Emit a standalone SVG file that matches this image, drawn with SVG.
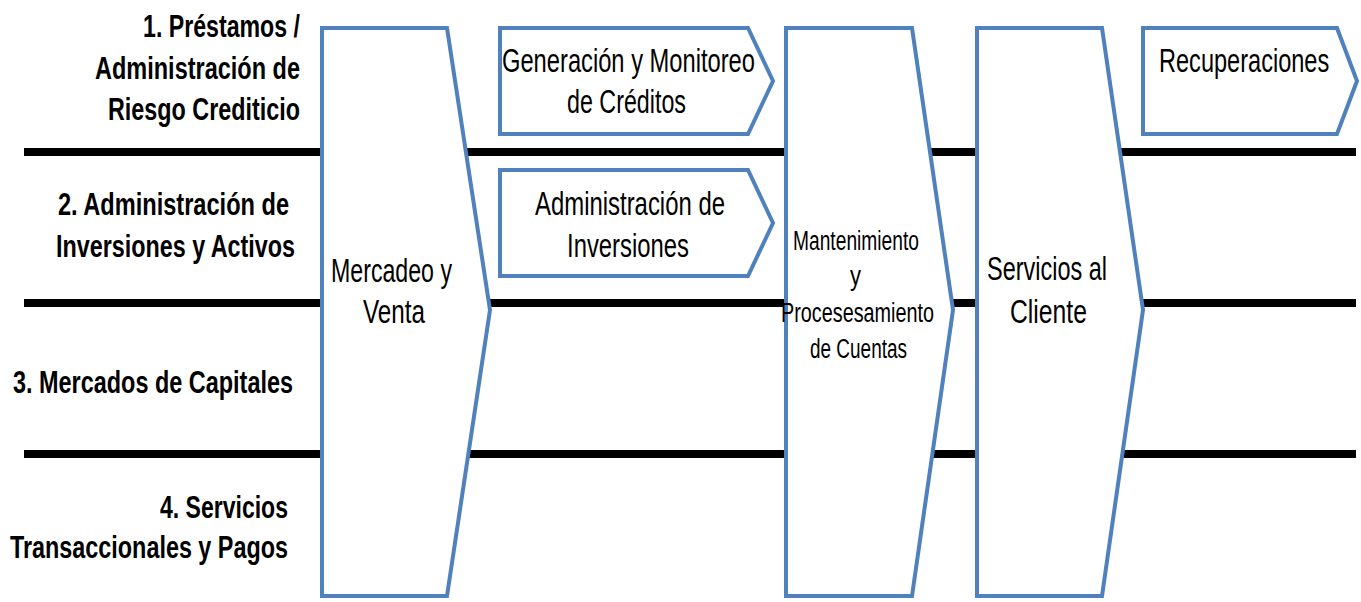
<svg xmlns="http://www.w3.org/2000/svg" width="1361" height="602" viewBox="0 0 1361 602">
<defs>
<filter id="sh" x="-5%" y="-200%" width="110%" height="500%">
<feGaussianBlur stdDeviation="2.5"/>
</filter>
<style>
.lbl{font-family:"Liberation Sans Narrow","Liberation Sans",Arial,sans-serif;font-weight:bold;font-size:31px;fill:#000}
.in{font-family:"Liberation Sans Narrow","Liberation Sans",Arial,sans-serif;font-size:33px;fill:#000}
.sm{font-family:"Liberation Sans Narrow","Liberation Sans",Arial,sans-serif;font-size:27px;fill:#000}
.shape{fill:#fff;stroke:#4F81BD;stroke-width:4;stroke-linejoin:miter}
.sep{stroke:#000;stroke-width:8}
.sepsh{stroke:#888;stroke-width:7;filter:url(#sh)}
</style>
</defs>
<rect width="1361" height="602" fill="#fff"/>
<g id="separators">
<line class="sepsh" x1="26" y1="159" x2="1356" y2="159"/>
<line class="sepsh" x1="26" y1="310" x2="1356" y2="310"/>
<line class="sepsh" x1="26" y1="461" x2="1356" y2="461"/>
<line class="sep" x1="24" y1="152" x2="1356" y2="152"/>
<line class="sep" x1="24" y1="303" x2="1356" y2="303"/>
<line class="sep" x1="24" y1="454" x2="1356" y2="454"/>
</g>
<g id="lane-labels">
<text class="lbl" x="143" y="37" textLength="157" lengthAdjust="spacingAndGlyphs">1. Préstamos /</text>
<text class="lbl" x="95" y="79" textLength="205" lengthAdjust="spacingAndGlyphs">Administración de</text>
<text class="lbl" x="108" y="120" textLength="192" lengthAdjust="spacingAndGlyphs">Riesgo Crediticio</text>
<text class="lbl" x="58" y="215" textLength="231" lengthAdjust="spacingAndGlyphs">2. Administración  de</text>
<text class="lbl" x="56" y="257" textLength="239" lengthAdjust="spacingAndGlyphs">Inversiones y Activos</text>
<text class="lbl" x="13" y="393" textLength="280" lengthAdjust="spacingAndGlyphs">3. Mercados de Capitales</text>
<text class="lbl" x="160" y="518" textLength="128" lengthAdjust="spacingAndGlyphs">4. Servicios</text>
<text class="lbl" x="10" y="558" textLength="278" lengthAdjust="spacingAndGlyphs">Transaccionales y Pagos</text>
</g>
<g id="mercadeo">
<polygon class="shape" points="322,28 447,28 490,310 447,596 322,596"/>
<text class="in" x="331" y="282" textLength="121" lengthAdjust="spacingAndGlyphs">Mercadeo y</text>
<text class="in" x="363" y="323" textLength="62" lengthAdjust="spacingAndGlyphs">Venta</text>
</g>
<g id="generacion">
<polygon class="shape" points="500,28 748,28 773,81 748,134 500,134"/>
<text class="in" x="502" y="72" textLength="253" lengthAdjust="spacingAndGlyphs">Generación y Monitoreo</text>
<text class="in" x="567" y="113" textLength="119" lengthAdjust="spacingAndGlyphs">de Créditos</text>
</g>
<g id="inversiones">
<polygon class="shape" points="500,170 748,170 773,223 748,276 500,276"/>
<text class="in" x="535" y="215" textLength="190" lengthAdjust="spacingAndGlyphs">Administración de</text>
<text class="in" x="567" y="257" textLength="122" lengthAdjust="spacingAndGlyphs">Inversiones</text>
</g>
<g id="mantenimiento">
<polygon class="shape" points="786,28 912,28 953,310 912,596 786,596"/>
<text class="sm" x="793" y="250" textLength="126" lengthAdjust="spacingAndGlyphs">Mantenimiento</text>
<text class="sm" x="850" y="285" textLength="11" lengthAdjust="spacingAndGlyphs">y</text>
<text class="sm" x="781" y="322" textLength="153" lengthAdjust="spacingAndGlyphs">Procesesamiento</text>
<text class="sm" x="810" y="358" textLength="97" lengthAdjust="spacingAndGlyphs">de Cuentas</text>
</g>
<g id="servicios">
<polygon class="shape" points="977,28 1102,28 1143,310 1102,596 977,596"/>
<text class="in" x="987" y="280" textLength="120" lengthAdjust="spacingAndGlyphs">Servicios al</text>
<text class="in" x="1010" y="323" textLength="77" lengthAdjust="spacingAndGlyphs">Cliente</text>
</g>
<g id="recuperaciones">
<polygon class="shape" points="1143,28 1337,28 1357,81 1337,134 1143,134"/>
<text class="in" transform="translate(1159,72) scale(0.75,1)" x="0" y="0" textLength="227" lengthAdjust="spacingAndGlyphs">Recuperaciones</text>
</g>
</svg>
